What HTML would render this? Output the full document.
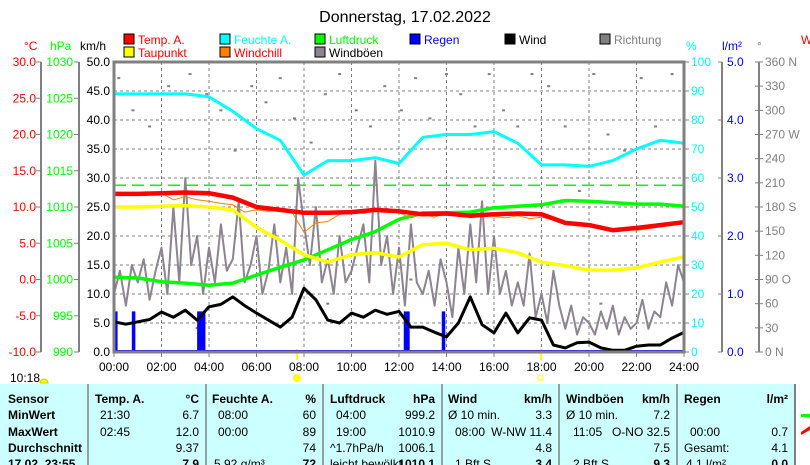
<!DOCTYPE html>
<html><head><meta charset="utf-8"><style>
html,body{margin:0;padding:0;background:#fff;width:810px;height:465px;overflow:hidden}
svg{display:block;font-family:"Liberation Sans",sans-serif}
</style></head><body>
<svg id="c" width="810" height="465" viewBox="0 0 810 465">
<text x="405" y="22" text-anchor="middle" font-size="16">Donnerstag, 17.02.2022</text>
<g id="legend"></g>
<g id="axes"></g>
<g id="plot"></g>
<g id="table"></g>
</svg>
<script>
const hours=[0,1,2,3,4,5,6,7,8,9,10,11,12,13,14,15,16,17,18,19,20,21,22,23,24];
const tempA=[11.8,11.8,11.9,12.0,11.9,11.3,10.0,9.6,9.2,9.2,9.3,9.6,9.4,9.0,9.1,8.8,9.0,9.1,9.0,7.8,7.5,6.8,7.1,7.5,7.9];
const dewPoint=[10.0,10.0,10.1,10.2,10.0,9.6,7.2,5.4,3.4,2.4,3.4,3.7,3.1,4.8,5.0,4.1,4.3,3.7,2.4,1.9,1.3,1.3,1.6,2.4,3.1];
const humidity=[89,89,89,89,88,83,77,73,61,66,66,67,65,74,75,75,76,72,64.5,64.5,64,66,70,73,72];
const pressure=[1000.3,1000.2,999.7,999.5,999.2,999.5,1000.6,1001.7,1002.7,1004.1,1005.5,1006.6,1008.3,1009.2,1009.2,1009.3,1009.9,1010.1,1010.3,1010.9,1010.8,1010.6,1010.4,1010.4,1010.1];
const halfHours=[0,0.5,1,1.5,2,2.5,3,3.5,4,4.5,5,5.5,6,6.5,7,7.5,8,8.5,9,9.5,10,10.5,11,11.5,12,12.5,13,13.5,14,14.5,15,15.5,16,16.5,17,17.5,18,18.5,19,19.5,20,20.5,21,21.5,22,22.5,23,23.5,24];
const windchill=[11.8,11.8,11.8,11.9,11.9,11.0,11.4,11.0,10.8,10.5,10.3,9.3,9.6,9.4,9.5,9.3,6.5,7.8,8.0,9.0,9.3,9.1,9.5,9.8,9.2,8.5,9.0,8.6,9.2,9.1,8.6,8.8,8.7,8.5,8.8,8.4,8.6,8.2,7.7,7.4,7.3,7.0,6.7,6.9,6.8,7.0,7.3,7.6,7.9];
const wind=[5.2,4.8,5.2,5.6,6.9,6.0,7.2,5.5,7.8,8.2,9.5,8.0,6.7,5.5,4.3,6.0,11.0,9.0,5.5,5.0,6.7,6.0,7.2,6.5,7.0,4.3,4.3,3.4,2.6,5.0,9.5,4.7,3.3,6.7,3.3,5.9,5.5,1.2,0.7,1.6,1.7,0.7,0.3,0.3,1.0,1.2,1.2,2.4,3.4];
const gusts=[10,14,8,15,12,16,9,14,18,10,25,12,30,15,20,10,18,12,22,14,16,26,12,15,20,10,14,22,12,18,10,30,22,15,25,12,16,10,20,12,14,18,22,12,33,15,20,10,18,8,22,12,10,14,8,16,12,6,18,10,22,12,26,10,20,10,14,8,12,8,17,6,10,5,14,8,4,8,3,6,5,3,7,4,8,3,6,4,5,9,4,7,6,12,8,15,12];
const rainStart=[0.0,0.75,3.5,12.2,13.8];
const rainEnd=[0.15,0.9,3.85,12.45,13.95];
const rainAmount=[0.7,0.7,0.7,0.7,0.7];
const dirHours=[0.2,0.8,1.5,2.3,3.2,3.9,4.5,5.1,5.8,6.4,7.0,7.6,8.3,8.9,9.5,10.2,10.8,11.4,12.1,12.7,13.3,14.0,14.6,15.2,15.8,16.4,17.0,17.6,18.3,19.0,19.6,20.2,20.8,21.5,22.2,22.8,23.5,3.5,9.0,17.2,20.5,12.5];
const dirDeg=[340,300,280,330,345,320,300,250,330,310,340,290,260,320,345,300,280,330,300,340,290,345,320,280,345,300,280,345,330,280,200,345,270,250,340,280,345,30,60,120,60,90];
const timeLabels=["00:00","02:00","04:00","06:00","08:00","10:00","12:00","14:00","16:00","18:00","20:00","22:00","24:00"];
const cTicks=["30.0","25.0","20.0","15.0","10.0","5.0","0.0","-5.0","-10.0"];
const hpaTicks=["1030","1025","1020","1015","1010","1005","1000","995","990"];
const kmhTicks=["50.0","45.0","40.0","35.0","30.0","25.0","20.0","15.0","10.0","5.0","0.0"];
const pctTicks=["100","90","80","70","60","50","40","30","20","10","0"];
const rainTicks=["5.0","4.0","3.0","2.0","1.0","0.0"];
const degTicks=["360 N","330","300","270 W","240","210","180 S","150","120","90  O","60","30","0    N"];

const NS="http://www.w3.org/2000/svg";
const L=114,R=684,T=62,B=352;
const X=h=>L+h*(R-L)/24;
const Yc=v=>T+(30-v)*(B-T)/40;
const Yh=v=>T+(1030-v)*(B-T)/40;
const Yk=v=>B-v*(B-T)/50;
const Yp=v=>B-v*(B-T)/100;
const Yr=v=>B-v*(B-T)/5;
const Yd=v=>B-v*(B-T)/360;
function mk(tag,at,parent,txt){const e=document.createElementNS(NS,tag);for(const k in at)e.setAttribute(k,at[k]);if(txt!==undefined)e.textContent=txt;parent.appendChild(e);return e;}
const lg=document.getElementById('legend'),ax=document.getElementById('axes'),pl=document.getElementById('plot'),tb=document.getElementById('table');

const legItems=[["Temp. A.","#f00","#f00",124,44],["Taupunkt","#ff0","#f00",124,57],["Feuchte A.","#0ff","#0ff",220,44],["Windchill","#ff8000","#f00",220,57],["Luftdruck","#0f0","#0f0",315,44],["Windböen","#8c8490","#000",315,57],["Regen","#00f","#00f",410,44],["Wind","#000","#000",505,44],["Richtung","#808080","#808080",600,44]];
legItems.forEach(it=>{
 const g=mk('g',{},lg);
 
 
 mk('rect',{x:it[3],y:it[4]-10,width:10,height:10,fill:it[1],stroke:'#000','stroke-width':1},g);
 mk('text',{x:it[3]+14,y:it[4],'font-size':12,fill:it[2]},g,it[0]);
});
[["°C",24,"#f00"],["hPa",50,"#0f0"],["km/h",80,"#000"],["%",686,"#0ff"],["l/m²",722,"#00f"],["°",757,"#808080"]].forEach(a=>{
 const t=mk('text',{x:a[1],y:50,'font-size':12,fill:a[2]},ax,a[0]);
 
 
});
mk('text',{x:801,y:44,'font-size':12,fill:'#f00'},ax,"W");

for(let i=1;i<10;i++){const y=T+i*(B-T)/10;mk('line',{x1:L,x2:R,y1:y,y2:y,stroke:'#808080','stroke-dasharray':'3,3','stroke-width':1},pl);}
for(let i=1;i<12;i++){const x=X(i*2);mk('line',{x1:x,x2:x,y1:T,y2:B,stroke:'#808080','stroke-dasharray':'3,3','stroke-width':1},pl);}

function vaxis(x,ticks,col,labx,anchor,tickDir){
 mk('line',{x1:x,x2:x,y1:T,y2:B,stroke:'#808080','stroke-width':2},ax);
 ticks.forEach((t,i)=>{const y=T+i*(B-T)/(ticks.length-1);
  mk('line',{x1:x,x2:x+tickDir*5,y1:y,y2:y,stroke:'#808080','stroke-width':1},ax);
  const e=mk('text',{x:labx,y:y+4,'font-size':12,fill:col,'text-anchor':anchor},ax,t);
  
  
 });
}
vaxis(41,cTicks,'#f00',36,'end',-1);
vaxis(79,hpaTicks,'#0f0',73,'end',-1);
kmhTicks.forEach((t,i)=>{const y=T+i*(B-T)/10;const e=mk('text',{x:110,y:y+4,'font-size':12,fill:'#000','text-anchor':'end'},ax,t);});
pctTicks.forEach((t,i)=>{const y=T+i*(B-T)/10;mk('line',{x1:R,x2:R+5,y1:y,y2:y,stroke:'#808080'},ax);const e=mk('text',{x:691,y:y+4,'font-size':12,fill:'#0ff'},ax,t);});
mk('line',{x1:722,x2:722,y1:T,y2:B,stroke:'#808080','stroke-width':2},ax);
rainTicks.forEach((t,i)=>{const y=T+i*(B-T)/5;mk('line',{x1:718,x2:722,y1:y,y2:y,stroke:'#808080'},ax);const e=mk('text',{x:727,y:y+4,'font-size':12,fill:'#00f'},ax,t);});
mk('line',{x1:759,x2:759,y1:T,y2:B,stroke:'#808080','stroke-width':2},ax);
degTicks.forEach((t,i)=>{const y=T+i*(B-T)/12;mk('line',{x1:755,x2:763,y1:y,y2:y,stroke:'#808080'},ax);const e=mk('text',{x:765,y:y+4,'font-size':12,fill:'#808080','xml:space':'preserve'},ax,t);});

const ref=mk('line',{x1:L,x2:R,y1:Yh(1013),y2:Yh(1013),stroke:'#0f0','stroke-width':1.5,'stroke-dasharray':'12,6'},pl);



dirHours.forEach((h,i)=>{const d=mk('rect',{x:X(h)-1.5,y:Yd(dirDeg[i])-1,width:3,height:2,fill:'#808080'},pl);
 
 });

function poly(xs,ys,yf,col,w,name){
 const pts=xs.map((h,i)=>X(h).toFixed(1)+','+yf(ys[i]).toFixed(1)).join(' ');
 const p=mk('polyline',{points:pts,fill:'none',stroke:col,'stroke-width':w,'stroke-linejoin':'round'},pl);
 
 
}
const qHours=gusts.map((g,i)=>i/4);
poly(qHours,gusts,Yk,'#8c8490',2,'windgust-line');
rainStart.forEach((s,i)=>{const r=mk('rect',{x:X(s),y:Yr(rainAmount[i]),width:Math.max(3,X(rainEnd[i])-X(s)),height:B-Yr(rainAmount[i]),fill:'#00f'},pl);
 
 });
mk('line',{x1:L,x2:R,y1:B-1,y2:B-1,stroke:'#00f','stroke-width':2},pl);
poly(hours,humidity,Yp,'#0ff',3,'humidity-line');
poly(hours,pressure,Yh,'#0f0',3.5,'pressure-line');
poly(hours,dewPoint,Yc,'#ff0',3.5,'dewpoint-line');
poly(halfHours,windchill,Yc,'#ff8000',1,'windchill-line');
poly(hours,tempA,Yc,'#f00',4.5,'temperature-line');
poly(halfHours,wind,Yk,'#000',3,'wind-line');

mk('rect',{x:L,y:T,width:R-L,height:B-T,fill:'none',stroke:'#808080','stroke-width':3},pl);
timeLabels.forEach((t,i)=>{const x=X(i*2);mk('line',{x1:x,x2:x,y1:B,y2:B+5,stroke:'#808080'},ax);const e=mk('text',{x:x,y:371,'font-size':12,'text-anchor':'middle'},ax,t);});
mk('line',{x1:297,x2:297,y1:349,y2:360,stroke:'#ff0','stroke-width':2},ax);
mk('line',{x1:541,x2:541,y1:349,y2:360,stroke:'#ff0','stroke-width':2},ax);
mk('text',{x:10,y:382,'font-size':12},ax,"10:18");
mk('path',{d:'M40 383 a4 4 0 0 1 8 0 z',fill:'#ff0',stroke:'#cc0'},ax);
mk('circle',{cx:297,cy:378,r:4,fill:'#ff0'},ax);
mk('rect',{x:538,y:375,width:5,height:5,fill:'none',stroke:'#ff0'},ax);

mk('rect',{x:0,y:384,width:795,height:81,fill:'#ccffff'},tb);
[88,206,323,442,559,677].forEach(x=>mk('line',{x1:x,x2:x,y1:384,y2:465,stroke:'#808080','stroke-width':1.5},tb));
mk('line',{x1:795,x2:795,y1:384,y2:465,stroke:'#808080','stroke-width':2},tb);
const rowsY=[403,419,436,452,468];
const cells=[
 [0,8,'start','Sensor',1],[1,8,'start','MinWert',1],[2,8,'start','MaxWert',1],[3,8,'start','Durchschnitt',1],[4,8,'start','17.02. 23:55',1],
 [0,95,'start','Temp. A.',1],[0,199,'end','°C',1],[1,100,'start','21:30',0],[1,199,'end','6.7',0],[2,100,'start','02:45',0],[2,199,'end','12.0',0],[3,199,'end','9.37',0],[4,199,'end','7.9',1],
 [0,212,'start','Feuchte A.',1],[0,316,'end','%',1],[1,218,'start','08:00',0],[1,316,'end','60',0],[2,218,'start','00:00',0],[2,316,'end','89',0],[3,316,'end','74',0],[4,214,'start','5.92 g/m³',0],[4,316,'end','72',1],
 [0,330,'start','Luftdruck',1],[0,435,'end','hPa',1],[1,336,'start','04:00',0],[1,435,'end','999.2',0],[2,336,'start','19:00',0],[2,435,'end','1010.9',0],[3,330,'start','^1.7hPa/h',0],[3,435,'end','1006.1',0],[4,330,'start','leicht bewölkt',0],[4,435,'end','1010.1',1],
 [0,448,'start','Wind',1],[0,552,'end','km/h',1],[1,448,'start','Ø 10 min.',0],[1,552,'end','3.3',0],[2,455,'start','08:00',0],[2,552,'end','W-NW 11.4',0],[3,552,'end','4.8',0],[4,455,'start','1 Bft S',0],[4,552,'end','3.4',1],
 [0,566,'start','Windböen',1],[0,670,'end','km/h',1],[1,566,'start','Ø 10 min.',0],[1,670,'end','7.2',0],[2,573,'start','11:05',0],[2,670,'end','O-NO 32.5',0],[3,670,'end','7.5',0],[4,573,'start','2 Bft S',0],[4,670,'end','9.3',1],
 [0,684,'start','Regen',1],[0,788,'end','l/m²',1],[2,690,'start','00:00',0],[2,788,'end','0.7',0],[3,684,'start','Gesamt:',0],[3,788,'end','4.1',0],[4,686,'start','4.1 l/m²',0],[4,788,'end','0.0',1]
];
cells.forEach(c=>{const e=mk('text',{x:c[1],y:rowsY[c[0]],'font-size':12,'text-anchor':c[2],'font-weight':c[4]?'bold':'normal'},tb,c[3]);
 
 });
mk('rect',{x:801,y:414,width:9,height:3,fill:'#0f0'},tb);
mk('path',{d:'M801 432 L810 426 L810 430 L801 435 z',fill:'#f00'},tb);
</script>
</body></html>
